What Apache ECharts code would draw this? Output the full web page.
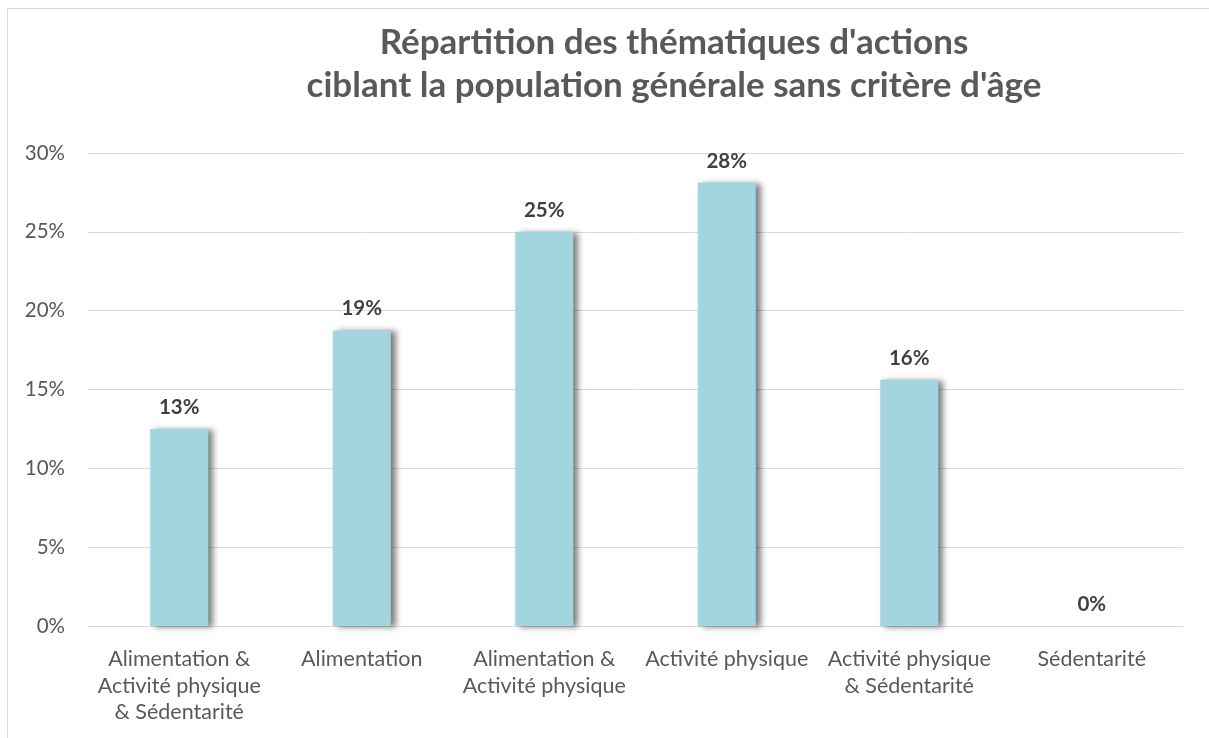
<!DOCTYPE html>
<html>
<head>
<meta charset="utf-8">
<script src="https://cdn.jsdelivr.net/npm/echarts@6/dist/echarts.min.js"></script>
<style>
html, body { margin: 0; padding: 0; background: #fff; }
#frame { position: absolute; left: 7px; top: 8px; width: 1300px; height: 740px; border: 1px solid #d9d9d9; }
#chart { position: absolute; left: 0; top: 0; width: 1209px; height: 738px; }
</style>
</head>
<body>
<div id="frame"></div>
<div id="chart"></div>
<script>
// catégories et valeurs (part des actions, en %)
var categories = [
    'Alimentation &\nActivité physique\n& Sédentarité',
    'Alimentation',
    'Alimentation &\nActivité physique',
    'Activité physique',
    'Activité physique\n& Sédentarité',
    'Sédentarité'
];
var values = [12.5, 18.75, 25, 28.125, 15.625, 0];
var yTicks = [0, 5, 10, 15, 20, 25, 30];

var myChart = echarts.init(document.getElementById('chart'));

var option = {
    animation: false,
    title: {
        text: "Répartition des thématiques d'actions\nciblant la population générale sans critère d'âge",
        left: 669,
        top: 16,
        textAlign: 'center',
        textStyle: {
            fontFamily: 'Lato',
            fontWeight: 'bold',
            fontSize: 35,
            lineHeight: 43,
            color: '#595959'
        }
    },
    grid: {
        left: 88,
        right: 26,
        top: 153,
        bottom: 112
    },
    xAxis: {
        type: 'category',
        data: categories,
        axisTick: { show: false },
        axisLine: { lineStyle: { color: '#d9d9d9', width: 1 } },
        axisLabel: {
            interval: 0,
            margin: 20,
            fontFamily: 'Lato',
            fontSize: 21.5,
            lineHeight: 26.5,
            color: '#595959'
        }
    },
    yAxis: {
        type: 'value',
        min: yTicks[0],
        max: yTicks[yTicks.length - 1],
        interval: 5,
        axisLabel: {
            margin: 23,
            fontFamily: 'Lato',
            fontSize: 20.5,
            color: '#595959',
            formatter: '{value}%'
        },
        splitLine: { lineStyle: { color: '#d9d9d9', width: 1 } }
    },
    series: [
        {
            type: 'bar',
            data: values,
            barWidth: 58,
            itemStyle: {
                color: '#a3d5df',
                shadowColor: 'rgba(0,0,0,0.5)',
                shadowBlur: 6,
                shadowOffsetX: 5,
                shadowOffsetY: 1
            },
            label: {
                show: true,
                position: 'top',
                distance: 11,
                fontFamily: 'Lato',
                fontWeight: 'bold',
                fontSize: 20.5,
                color: '#404040',
                formatter: function (p) { return Math.round(p.value) + '%'; }
            }
        }
    ]
};

myChart.setOption(option);
</script>
</body>
</html>
